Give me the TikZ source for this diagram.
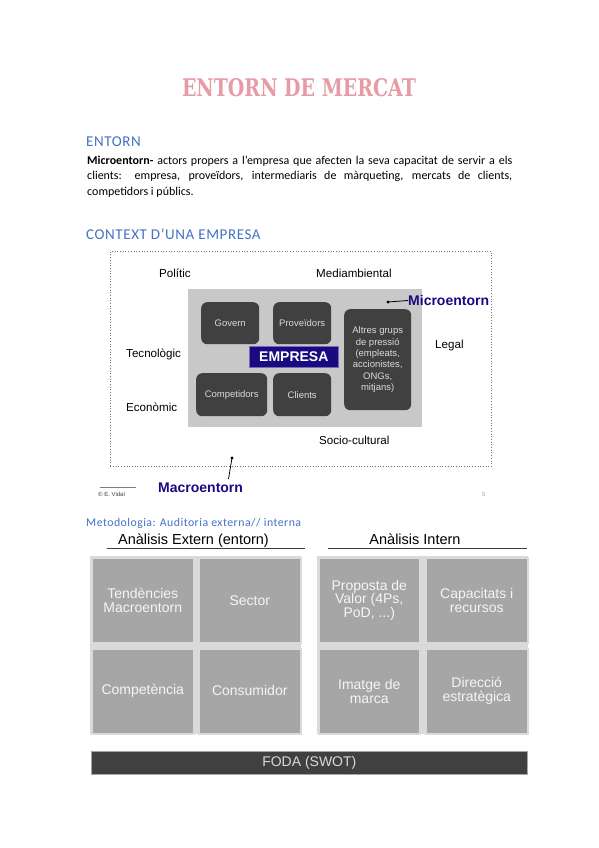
\documentclass[tikz,border=0pt]{standalone}
\usepackage{fontspec}
\usepackage{graphicx}
\setmainfont{Carlito}
\newfontfamily\arialf{Liberation Sans}
\newfontfamily\slabf{DejaVu Serif}
\newfontfamily\headf[LetterSpace=4]{Carlito}
\definecolor{titlepink}{RGB}{230,155,165}
\definecolor{headblue}{RGB}{68,114,196}
\definecolor{darkbox}{RGB}{64,64,64}
\definecolor{midgray}{RGB}{200,200,200}
\definecolor{navy}{RGB}{26,10,130}
\definecolor{gridgray}{RGB}{166,166,166}
\definecolor{gapgray}{RGB}{218,218,218}
\definecolor{boxtext}{RGB}{218,218,218}
\definecolor{dotgray}{RGB}{120,120,120}
\tikzset{
  para/.style={anchor=base west, inner sep=0pt, font=\fontsize{12}{14}\selectfont},
  head/.style={anchor=base west, inner sep=0pt, text=headblue, font=\headf\fontsize{15}{17}\selectfont},
  lbl/.style={anchor=base west, inner sep=0pt, font=\arialf\fontsize{11.6}{13}\selectfont},
  darkrnd/.style={anchor=north west, fill=darkbox, draw=none, rounded corners=6pt, inner sep=0pt, text=boxtext, font=\arialf\fontsize{9.5}{11.5}\selectfont, align=center},
  micro/.style={inner sep=0pt, text=navy, font=\arialf\bfseries\fontsize{14}{16}\selectfont},
  gridbox/.style={anchor=north west, fill=gridgray, draw=gapgray, line width=1.5pt, inner sep=0pt, minimum width=102pt, minimum height=85pt, text=white!92!gray, font=\arialf\fontsize{14}{14}\selectfont, align=center},
  subhead/.style={anchor=base, inner sep=0pt, font=\arialf\fontsize{14.5}{16}\selectfont}
}
\begin{document}
\begin{tikzpicture}[x=1pt,y=-1pt]
\useasboundingbox[fill=white] (0,0) rectangle (599,848);
% title
\node[anchor=base, inner sep=0pt, text=titlepink] (title) at (299,96) {\resizebox{234pt}{18pt}{\slabf\bfseries ENTORN DE MERCAT}};
% ENTORN section
\node[head] (entorn) at (86,146.5) {ENTORN};
\node[para] (p1) at (87,164) {\makebox[425pt][s]{\textbf{Microentorn-} actors propers a l’empresa que afecten la seva capacitat de servir a els}};
\node[para] (p2) at (87,179.5) {\makebox[425pt][s]{clients: empresa, proveïdors, intermediaris de màrqueting, mercats de clients,}};
\node[para] (p3) at (87,195) {competidors i públics.};
\node[head] (context) at (86,239) {CONTEXT D’UNA EMPRESA};
% context diagram
\node[anchor=north west, draw=dotgray, dotted, line width=0.7pt, minimum width=381pt, minimum height=215pt, inner sep=0pt] (macro) at (110,251) {};
\node[anchor=north west, fill=midgray, minimum width=234pt, minimum height=138pt, inner sep=0pt] (microarea) at (188,289) {};
\node[lbl] (politic) at (159,277) {Polític};
\node[lbl] (medi) at (316,277) {Mediambiental};
\node[lbl] (tecno) at (126,357) {Tecnològic};
\node[lbl] (econo) at (126,411) {Econòmic};
\node[lbl] (legal) at (435,348) {Legal};
\node[lbl] (socio) at (319,444) {Socio-cultural};
\node[darkrnd, minimum width=58pt, minimum height=42pt] (govern) at (201,302) {Govern};
\node[darkrnd, minimum width=58pt, minimum height=42pt] (prov) at (273,302) {Proveïdors};
\node[darkrnd, minimum width=67pt, minimum height=101pt, font=\arialf\fontsize{9.5}{11.3}\selectfont] (altres) at (344,309) {Altres grups\\de pressió\\(empleats,\\accionistes,\\ONGs,\\mitjans)};
\node[darkrnd, minimum width=71pt, minimum height=43pt] (compet) at (196,373) {Competidors};
\node[darkrnd, minimum width=58pt, minimum height=43pt] (clients) at (273,373) {Clients};
\node[anchor=north west, fill=navy, draw=navy!60!white, line width=0.6pt, minimum width=89pt, minimum height=21pt, inner sep=0pt, text=white, font=\arialf\bfseries\fontsize{14}{16}\selectfont] (empresa) at (249,346) {EMPRESA};
% microentorn label
\coordinate (microdot) at (388,302);
\node[micro, anchor=base west] (microlbl) at (408,305.5) {Microentorn};
\fill (microdot) circle (1.6pt);
\draw[line width=0.8pt] (microdot) -- (microlbl.west);
% macroentorn label
\coordinate (macrodot) at (232,458);
\node[micro, anchor=base west] (macrolbl) at (158,492) {Macroentorn};
\coordinate (macroend) at (228.5,479);
\fill (macrodot) circle (1.6pt);
\draw[line width=0.8pt] (macrodot) -- (macroend);
% footer of slide
\draw[gray, line width=0.5pt] (100,487.5) -- (136,487.5);
\node[anchor=base west, inner sep=0pt, text=darkgray, font=\arialf\fontsize{6}{7}\selectfont] (vidal) at (98,496.5) {© E. Vidal};
\node[anchor=base west, inner sep=0pt, text=gray!70, font=\arialf\fontsize{6}{7}\selectfont] (pagenum) at (482,496.5) {5};
% methodology
\node[head, font=\headf\fontsize{11.8}{14}\selectfont] (metod) at (86,526) {Metodologia: Auditoria externa// interna};
\node[subhead] (extern) at (193.5,544) {Anàlisis Extern (entorn)};
\node[subhead] (intern) at (415,544) {Anàlisis Intern};
\draw[darkgray, line width=0.8pt] (107,548.5) -- (305,548.5);
\draw[darkgray, line width=0.8pt] (328,548.5) -- (527,548.5);
% grids
\fill[gapgray] (90,556) rectangle (301,734);
\fill[gapgray] (317,556) rectangle (528,734);
\node[gridbox] (tend) at (91,557) {Tendències\\Macroentorn};
\node[gridbox] (sector) at (198,557) {Sector};
\node[gridbox] (compe) at (91,648) {Competència};
\node[gridbox] (consum) at (198,648) {\vphantom{Èp}Consumidor};
\node[gridbox, minimum width=101pt, font=\arialf\fontsize{14}{13.5}\selectfont] (prop) at (318,557) {Proposta de\\Valor (4Ps,\\PoD, ...)};
\node[gridbox] (capac) at (425,557) {Capacitats i\\recursos};
\node[gridbox, minimum width=101pt] (imatge) at (318,648) {Imatge de\\marca};
\node[gridbox] (direc) at (425,648) {Direcció\\estratègica};
% FODA
\node[anchor=north west, fill=darkbox, draw=gray!70, line width=0.6pt, minimum width=436pt, minimum height=23pt, inner sep=0pt, text=boxtext, font=\arialf\fontsize{14}{16}\selectfont] (foda) at (91,751) {FODA (SWOT)};
\end{tikzpicture}
\end{document}
